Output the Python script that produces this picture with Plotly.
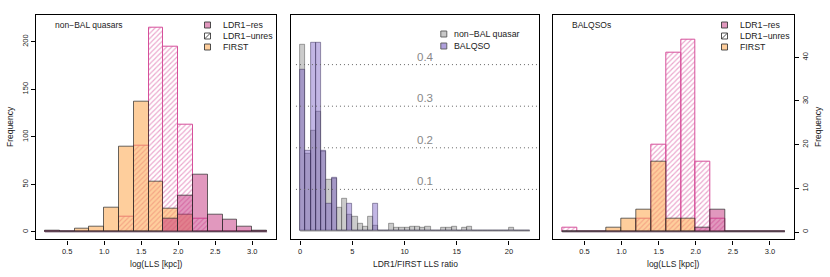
import plotly.graph_objects as go

# ---------------- data ----------------
lls_edges = [0.2, 0.4, 0.6, 0.8, 1.0, 1.2, 1.4, 1.6, 1.8, 2.0, 2.2, 2.4, 2.6, 2.8, 3.0, 3.2]

nonbal_first = [0, 0, 3, 6, 26, 90, 137, 53, 24, 18, 0, 0, 0, 0, 0]
nonbal_unres = [0, 0, 0, 0, 0, 16, 91, 215, 195, 113, 14, 0, 0, 0, 0]
nonbal_res   = [1, 0, 0, 0, 0, 0, 0, 0, 14, 38, 60, 18, 13, 6, 1]

bal_first = [0, 0, 0, 1, 3, 5, 16, 3, 3, 0, 0, 0, 0, 0, 0]
bal_unres = [1, 0, 0, 0, 0, 3, 20, 41, 44, 16, 3, 0, 0, 0, 0]
bal_res   = [0, 0, 0, 0, 0, 0, 0, 0, 0, 1, 5, 0, 0, 0, 0]

ratio_edges = [i * 0.5 for i in range(45)]  # 0 .. 22
ratio_nonbal = [0.448, 0.187, 0.241, 0.287, 0.190, 0.124, 0.126, 0.056, 0.078, 0.039,
                0.034, 0.017, 0.011, 0.034, 0.012, 0, 0, 0.018, 0.007, 0.007,
                0.007, 0.011, 0.011, 0.007, 0.011, 0, 0, 0.007, 0.007, 0.011,
                0, 0.007, 0.011, 0, 0, 0, 0, 0, 0, 0,
                0.007, 0, 0, 0]
ratio_bal = [0.387, 0.194, 0.452, 0.452, 0.194, 0.065, 0.129, 0, 0, 0.065,
             0, 0, 0, 0, 0.065, 0, 0, 0, 0, 0,
             0, 0, 0, 0, 0, 0, 0, 0, 0, 0,
             0, 0, 0, 0, 0, 0, 0, 0, 0, 0,
             0, 0, 0, 0]
density_levels = [0.1, 0.2, 0.3, 0.4]

lls_ticks = [0.5, 1.0, 1.5, 2.0, 2.5, 3.0]
ratio_ticks = [0, 5, 10, 15, 20]
nonbal_yticks = [0, 50, 100, 150, 200]
bal_yticks = [0, 10, 20, 30, 40]

# ---------------- styles ----------------
W, H = 830, 277
FONT = "Liberation Sans, Arial, sans-serif"
ORANGE = "rgba(253,165,75,0.55)"
PINK_RES = "rgba(195,50,125,0.5)"
PINK_LINE = "rgb(214,80,155)"
EDGE = "rgba(40,40,40,0.7)"
GREY = "rgba(140,140,140,0.45)"
PURPLE = "rgba(110,80,190,0.42)"


def fx(p):
    return p / W


def fy(p):
    return 1 - p / H


def centers(edges):
    return [(edges[i] + edges[i + 1]) / 2 for i in range(len(edges) - 1)]


def widths(edges):
    return [edges[i + 1] - edges[i] for i in range(len(edges) - 1)]


fig = go.Figure()


def add_lls_panel(first, unres, res, xa, ya):
    c, w = centers(lls_edges), widths(lls_edges)
    # baseline for empty bins (as drawn by R hist)
    fig.add_trace(go.Scatter(x=[lls_edges[0], lls_edges[-1]], y=[0, 0], mode="lines",
                             line=dict(color="rgba(130,100,120,0.8)", width=1.2),
                             xaxis=xa, yaxis=ya, showlegend=False, hoverinfo="skip"))
    fig.add_trace(go.Bar(x=c, y=unres, width=w, xaxis=xa, yaxis=ya, showlegend=False,
                         marker=dict(color="rgba(0,0,0,0)",
                                     line=dict(color=PINK_LINE, width=1),
                                     pattern=dict(shape="/", fgcolor="rgba(210,60,145,0.9)",
                                                  bgcolor="rgba(0,0,0,0)", size=3.6,
                                                  solidity=0.33, fillmode="overlay")),
                         name="LDR1\u2212unres"))
    fig.add_trace(go.Bar(x=c, y=first, width=w, xaxis=xa, yaxis=ya, showlegend=False,
                         marker=dict(color=ORANGE, line=dict(color=EDGE, width=1)),
                         name="FIRST"))
    fig.add_trace(go.Bar(x=c, y=res, width=w, xaxis=xa, yaxis=ya, showlegend=False,
                         marker=dict(color=PINK_RES, line=dict(color=EDGE, width=1)),
                         name="LDR1\u2212res"))


add_lls_panel(nonbal_first, nonbal_unres, nonbal_res, "x", "y")
add_lls_panel(bal_first, bal_unres, bal_res, "x3", "y3")

# ratio panel
rc, rw = centers(ratio_edges), widths(ratio_edges)
fig.add_trace(go.Scatter(x=[ratio_edges[0], ratio_edges[-1]], y=[0, 0], mode="lines",
                         line=dict(color="rgba(140,140,140,0.9)", width=1.2),
                         xaxis="x2", yaxis="y2", showlegend=False, hoverinfo="skip"))
fig.add_trace(go.Bar(x=rc, y=ratio_nonbal, width=rw, xaxis="x2", yaxis="y2", showlegend=False,
                     marker=dict(color=GREY, line=dict(color="rgba(70,70,70,0.6)", width=0.8)),
                     name="non\u2212BAL quasar"))
fig.add_trace(go.Bar(x=rc, y=ratio_bal, width=rw, xaxis="x2", yaxis="y2", showlegend=False,
                     marker=dict(color=PURPLE, line=dict(color="rgba(50,40,80,0.6)", width=0.8)),
                     name="BALQSO"))

ydom = [fy(239.3), fy(14.7)]
tickfont = dict(family=FONT, size=7.5, color="#222")
common_ax = dict(showline=True, mirror=True, linecolor="black", linewidth=1.4,
                 showgrid=False, zeroline=False, ticks="outside", ticklen=4,
                 tickcolor="black", tickwidth=1, tickfont=tickfont, automargin=False)

fig.update_layout(
    width=W, height=H, margin=dict(l=0, r=0, t=0, b=0),
    paper_bgcolor="white", plot_bgcolor="white", barmode="overlay", bargap=0,
    showlegend=False,
    xaxis=dict(domain=[fx(36), fx(276)], range=[0.08, 3.32], tickvals=lls_ticks,
               tickformat=".1f", anchor="y", **common_ax),
    yaxis=dict(domain=ydom, range=[-7.7, 228.4], tickvals=nonbal_yticks, tickangle=-90,
               anchor="x", **common_ax),
    xaxis2=dict(domain=[fx(291), fx(539)], range=[-0.88, 22.88], tickvals=ratio_ticks,
                anchor="y2", **common_ax),
    yaxis2=dict(domain=ydom, range=[-0.02, 0.52], anchor="x2", showticklabels=False,
                **common_ax),
    xaxis3=dict(domain=[fx(553.3), fx(793.7)], range=[0.08, 3.32], tickvals=lls_ticks,
                tickformat=".1f", anchor="y3", **common_ax),
    yaxis3=dict(domain=ydom, range=[-1.67, 49.76], tickvals=bal_yticks, tickangle=-90,
                side="right", anchor="x3", **common_ax),
)
fig.layout.yaxis2.ticks = ""

# dotted density guide lines with labels
for lv in density_levels:
    fig.add_shape(type="line", xref="x2 domain", yref="y2", x0=0.02, x1=1, y0=lv, y1=lv,
                  line=dict(color="#666", width=1, dash="1px,3px"))
    fig.add_annotation(x=12, y=lv, xref="x2", yref="y2", text=f"{lv:.1f}", showarrow=False,
                       yanchor="bottom", yshift=0,
                       font=dict(family=FONT, size=11.5, color="#888"))


def label(x, y, text, anchor="left", angle=0, size=8.5):
    fig.add_annotation(x=fx(x), y=fy(y), xref="paper", yref="paper", text=text,
                       showarrow=False, xanchor=anchor, yanchor="middle", textangle=angle,
                       font=dict(family=FONT, size=size, color="#222"))


# axis titles
label(156, 264, "log(LLS [kpc])", anchor="center")
label(415, 264, "LDR1/FIRST LLS ratio", anchor="center")
label(673.5, 264, "log(LLS [kpc])", anchor="center")
label(10, 127, "Frequency", anchor="center", angle=-90)
label(818, 127, "Frequency", anchor="center", angle=-90)

# panel titles
label(53, 25, "non\u2212BAL quasars")
label(570, 25, "BALQSOs")


def legend_box(cx, cy, fill, line, hatch=False, s=6):
    fig.add_shape(type="rect", xref="paper", yref="paper",
                  x0=fx(cx - s / 2), x1=fx(cx + s / 2), y0=fy(cy + s / 2), y1=fy(cy - s / 2),
                  fillcolor=fill, line=dict(color=line, width=1))
    if hatch:
        fig.add_shape(type="line", xref="paper", yref="paper",
                      x0=fx(cx - s / 2), x1=fx(cx + s / 2), y0=fy(cy + s / 2), y1=fy(cy - s / 2),
                      line=dict(color=line, width=1))


entries = [("LDR1\u2212res", PINK_RES, "rgba(60,60,60,0.9)", False),
           ("LDR1\u2212unres", "white", "rgba(60,60,60,0.9)", True),
           ("FIRST", ORANGE, "rgba(60,60,60,0.9)", False)]
for (bx, tx) in [(207.5, 220.5), (724.5, 737.5)]:
    for i, (name, fill, line, hatch) in enumerate(entries):
        yy = 25 + 11 * i
        legend_box(bx, yy, fill, line, hatch)
        label(tx, yy, name, size=8.8)

for i, (name, fill) in enumerate([("non\u2212BAL quasar", "rgb(200,200,200)"),
                                  ("BALQSO", "rgb(175,160,220)")]):
    yy = 34 + 12 * i
    legend_box(443.8, yy, fill, "rgba(90,90,90,0.9)", s=6)
    label(452, yy, name, size=8.8)

fig.write_html("out.html", config={"displayModeBar": False},
               post_script="document.body.style.margin='0px';")
